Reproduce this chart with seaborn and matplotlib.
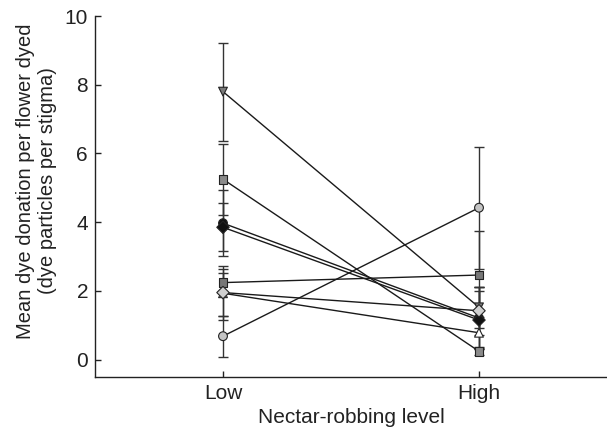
import numpy as np
import pandas as pd
import matplotlib
matplotlib.use('Agg')
import matplotlib.pyplot as plt
import seaborn as sns

sns.set_style('ticks')
plt.rcParams['font.family'] = ['Liberation Sans', 'DejaVu Sans']

# data
levels = ['Low', 'High']
series = ['s1', 's2', 's3', 's4', 's5', 's7', 's6', 's8']
low_mean = [7.80, 5.25, 3.97, 3.85, 2.24, 1.93, 1.95, 0.68]
high_mean = [1.52, 0.24, 1.21, 1.15, 2.46, 0.78, 1.42, 4.42]
low_err = [1.43, 1.03, 0.97, 0.70, 0.28, 0.79, 0.68, 0.60]
high_err = [0.60, 0.12, 0.90, 0.85, 1.28, 0.45, 0.70, 1.78]
marker_shapes = ['v', 's', 'o', 'D', 's', '^', 'D', 'o']
marker_faces = ['#7a7a7a', '#8a8a8a', '#111111', '#111111',
                '#777777', '#ffffff', '#cfcfcf', '#c4c4c4']

# long table
rows = []
for i, s in enumerate(series):
    rows.append([s, 'Low', low_mean[i], low_err[i]])
    rows.append([s, 'High', high_mean[i], high_err[i]])
df = pd.DataFrame(rows, columns=['series', 'level', 'mean', 'err'])

fig = plt.figure(figsize=(6.07, 4.34), dpi=100)
ax = fig.add_axes([0.1565, 0.132, 0.8435, 0.831])

# error bars first
for s in series:
    d = df[df['series'] == s]
    ax.errorbar(d['level'], d['mean'], yerr=d['err'], fmt='none',
                ecolor='#333333', elinewidth=1.0, capsize=3.5, capthick=1.0, zorder=1)

# connecting lines
sns.lineplot(data=df, x='level', y='mean', hue='series', units='series', estimator=None,
             palette=['#1a1a1a'] * len(series), linewidth=1.0, legend=False, ax=ax,
             sort=False, zorder=2)

# markers
sns.scatterplot(data=df, x='level', y='mean', hue='series', style='series',
                palette=dict(zip(series, marker_faces)),
                markers=dict(zip(series, marker_shapes)),
                s=40, edgecolor='#222222', linewidth=0.8, legend=False, ax=ax, zorder=3)

ax.set_xlim(-0.5, 1.5)
ax.set_ylim(-0.5, 10)
ax.set_yticks([0, 2, 4, 6, 8, 10])
ax.set_xticks([0, 1])
ax.set_xticklabels(levels)
ax.tick_params(direction='in', length=4, width=1, labelsize=15, colors='#222222', pad=5)
for sp in ['left', 'bottom']:
    ax.spines[sp].set_linewidth(1.0)
    ax.spines[sp].set_color('#222222')
sns.despine(ax=ax)

ax.set_xlabel('Nectar-robbing level', fontsize=15, color='#222222', labelpad=4)
ax.set_ylabel('Mean dye donation per flower dyed\n(dye particles per stigma)',
              fontsize=14.5, color='#222222', linespacing=1.2)
ax.yaxis.set_label_coords(-0.075, 0.543)

fig.savefig('out.png', dpi=100)
